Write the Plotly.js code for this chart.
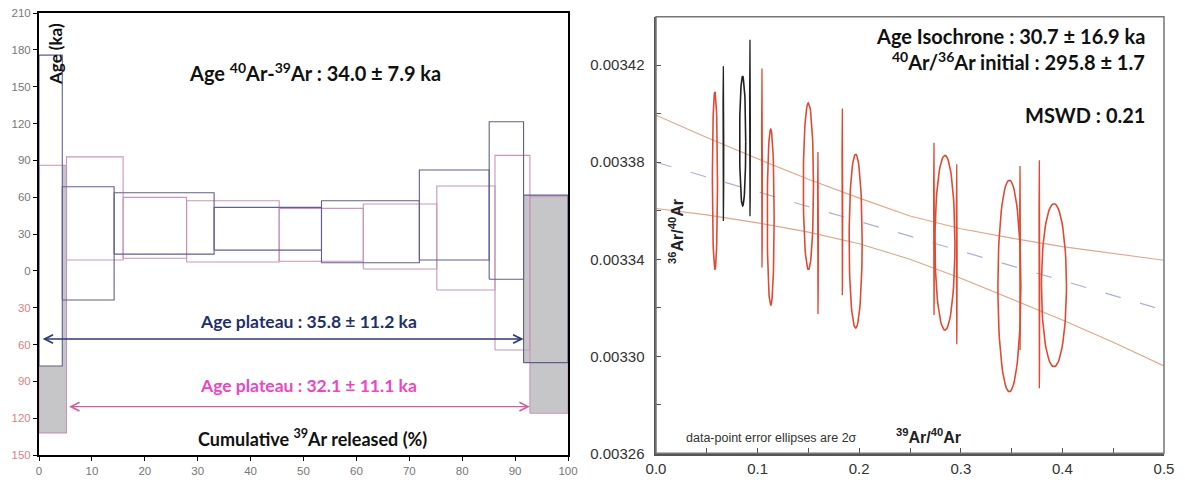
<!DOCTYPE html>
<html><head><meta charset="utf-8">
<script src="https://cdn.plot.ly/plotly-3.0.1.min.js"></script>
<style>html,body{margin:0;padding:0;background:#fff}#chart{width:1185px;height:482px}</style>
</head><body><div id="chart"></div>
<script>
// ---------- Left panel: age spectrum (two analyses) ----------
const blueEdges = [0, 4.4, 14.2, 33.1, 53.4, 71.9, 85.1, 91.6, 100];   // cumulative 39Ar (%)
const blueLow   = [-77.5, -23.8, 13.6, 16.9, 6.6, 8.8, -6.9, -74.8];    // age - err (ka)
const blueHigh  = [175.7, 68.5, 63.6, 51.7, 57.1, 82.1, 121.4, 61.7];   // age + err (ka)
const blueInPlateau = [true, true, true, true, true, true, true, false];

const pinkEdges = [0, 5.2, 15.9, 27.9, 45.4, 61.3, 75.2, 86.2, 92.8, 100];
const pinkLow   = [-132, 8.8, 10.2, 7.2, 7.8, 1.5, -15.6, -64.5, -116];
const pinkHigh  = [86, 92.8, 59.8, 57.1, 50.9, 54.4, 69.1, 94.0, 60.3];
const pinkInPlateau = [false, true, true, true, true, true, true, true, false];

const ageTickVals = [-150, -120, -90, -60, -30, 0, 30, 60, 90, 120, 150, 180, 210];
const xTickVals = [0, 10, 20, 30, 40, 50, 60, 70, 80, 90, 100];

const totalAgeText = 'Age <sup>40</sup>Ar-<sup>39</sup>Ar : 34.0 ± 7.9 ka';
const bluePlateauText = 'Age plateau : 35.8 ± 11.2 ka';
const pinkPlateauText = 'Age plateau : 32.1 ± 11.1 ka';

// ---------- Right panel: inverse isochron ----------
const ellX  = [0.058, 0.0663, 0.0853, 0.0925, 0.1043, 0.1129, 0.150, 0.1594, 0.1834, 0.1965, 0.2736, 0.2844, 0.296, 0.3478, 0.3583, 0.3773, 0.3917];
const ellY  = [0.0033724, 0.0033877, 0.0033887, 0.0033941, 0.0033776, 0.0033573, 0.0033701, 0.0033508, 0.0033637, 0.0033475, 0.0033525, 0.0033468, 0.0033421, 0.0033290, 0.0033405, 0.0033338, 0.0033293];
const ellEx = [0.0025, 0.0004, 0.0030, 0.0004, 0.0004, 0.0034, 0.0050, 0.0004, 0.0004, 0.0064, 0.0004, 0.0098, 0.0004, 0.0113, 0.0004, 0.0004, 0.0123];
const ellEy = [0.0000366, 0.0000319, 0.0000267, 0.0000364, 0.0000410, 0.0000363, 0.0000343, 0.0000334, 0.0000385, 0.0000358, 0.0000355, 0.0000360, 0.0000371, 0.0000436, 0.0000379, 0.0000470, 0.0000336];
const ellUsed = [1, 0, 0, 0, 1, 1, 1, 1, 1, 1, 1, 1, 1, 1, 1, 1, 1];

const isoX = [0, 0.5];
const isoY = [0.003380, 0.003319];
const envX = [0, 0.05, 0.1, 0.15, 0.2, 0.25, 0.3, 0.35, 0.4, 0.45, 0.5];
const envUpper = [0.0033994, 0.0033902, 0.0033814, 0.0033730, 0.0033652, 0.0033578, 0.0033526, 0.0033487, 0.0033452, 0.0033423, 0.0033396];
const envLower = [0.0033609, 0.0033583, 0.0033550, 0.0033512, 0.0033464, 0.0033400, 0.0033322, 0.0033237, 0.0033150, 0.0033058, 0.0032960];

// ---------- build geometry ----------
function rects(edges, lo, hi, pick) {
  const xs = [], ys = [];
  for (let i = 0; i < lo.length; i++) {
    if (pick && !pick(i)) continue;
    const a = edges[i], b = edges[i + 1];
    xs.push(a, b, b, a, a, null);
    ys.push(lo[i], lo[i], hi[i], hi[i], lo[i], null);
  }
  return {x: xs, y: ys};
}
function ellipses(pick) {
  const xs = [], ys = [];
  for (let i = 0; i < ellX.length; i++) {
    if (!pick(i)) continue;
    for (let k = 0; k <= 72; k++) {
      const t = 2 * Math.PI * k / 72;
      xs.push(ellX[i] + ellEx[i] * Math.cos(t));
      ys.push(ellY[i] + ellEy[i] * Math.sin(t));
    }
    xs.push(null); ys.push(null);
  }
  return {x: xs, y: ys};
}

const grayPink = rects(pinkEdges, pinkLow, pinkHigh, i => !pinkInPlateau[i]);
const grayBlue = rects(blueEdges, blueLow, blueHigh, i => !blueInPlateau[i]);
const whiteBlue = rects(blueEdges, blueLow, blueHigh, i => blueInPlateau[i] && i === 0);
const pinkAll = rects(pinkEdges, pinkLow, pinkHigh);
const blueAll = rects(blueEdges, blueLow, blueHigh);

const BLUE = '#5f5f96', PINK = '#c995bb';
const traces = [
  {x: grayPink.x, y: grayPink.y, xaxis: 'x', yaxis: 'y', mode: 'lines', fill: 'toself', fillcolor: '#c6c6c8', line: {width: 0}, hoverinfo: 'skip'},
  {x: grayBlue.x, y: grayBlue.y, xaxis: 'x', yaxis: 'y', mode: 'lines', fill: 'toself', fillcolor: '#c6c6c8', line: {width: 0}, hoverinfo: 'skip'},
  {x: whiteBlue.x, y: whiteBlue.y, xaxis: 'x', yaxis: 'y', mode: 'lines', fill: 'toself', fillcolor: '#ffffff', line: {width: 0}, hoverinfo: 'skip'},
  {x: pinkAll.x, y: pinkAll.y, xaxis: 'x', yaxis: 'y', mode: 'lines', line: {color: PINK, width: 1.1}, hoverinfo: 'skip'},
  {x: blueAll.x, y: blueAll.y, xaxis: 'x', yaxis: 'y', mode: 'lines', line: {color: BLUE, width: 1.1}, hoverinfo: 'skip'}
];

const thin = i => ellEx[i] < 0.001;
const redThick = ellipses(i => ellUsed[i] && !thin(i));
const redThin = ellipses(i => ellUsed[i] && thin(i));
const blkThick = ellipses(i => !ellUsed[i] && !thin(i));
const blkThin = ellipses(i => !ellUsed[i] && thin(i));

traces.push(
  {x: envX, y: envUpper, xaxis: 'x2', yaxis: 'y2', mode: 'lines', line: {color: '#e3a58a', width: 1.1}, hoverinfo: 'skip'},
  {x: envX, y: envLower, xaxis: 'x2', yaxis: 'y2', mode: 'lines', line: {color: '#e3a58a', width: 1.1}, hoverinfo: 'skip'},
  {x: isoX, y: isoY, xaxis: 'x2', yaxis: 'y2', mode: 'lines', line: {color: '#a9b1d9', width: 1.2, dash: '16px,20px'}, hoverinfo: 'skip'},
  {x: redThick.x, y: redThick.y, xaxis: 'x2', yaxis: 'y2', mode: 'lines', line: {color: '#e04a33', width: 1.6}, hoverinfo: 'skip'},
  {x: redThin.x, y: redThin.y, xaxis: 'x2', yaxis: 'y2', mode: 'lines', line: {color: '#e04a33', width: 1.3}, hoverinfo: 'skip'},
  {x: blkThick.x, y: blkThick.y, xaxis: 'x2', yaxis: 'y2', mode: 'lines', line: {color: '#222222', width: 1.6}, hoverinfo: 'skip'},
  {x: blkThin.x, y: blkThin.y, xaxis: 'x2', yaxis: 'y2', mode: 'lines', line: {color: '#222222', width: 1.3}, hoverinfo: 'skip'}
);

const tickFont = {family: 'Liberation Sans, Arial, sans-serif', size: 11.5, color: '#777'};
const TXT = 'Lato, Open Sans, sans-serif';
const AX = 'Liberation Sans, Arial, sans-serif';

function label(px, py, text, size, color, opts) {
  return Object.assign({xref: 'paper', yref: 'paper', x: px / 1185, y: 1 - py / 482, xanchor: 'center', yanchor: 'middle',
    text: text, showarrow: false, font: {family: TXT, size: size, color: color}}, opts || {});
}

const layout = {
  width: 1185, height: 482,
  margin: {l: 0, r: 0, t: 0, b: 0},
  paper_bgcolor: '#fff', plot_bgcolor: 'rgba(0,0,0,0)',
  showlegend: false,
  xaxis: {
    domain: [39 / 1185, 568 / 1185], range: [0, 100], tickvals: xTickVals,
    showgrid: false, zeroline: false, showline: true, mirror: true, linecolor: '#000', linewidth: 2,
    ticks: 'outside', ticklen: 4, tickcolor: '#000', tickfont: tickFont, fixedrange: true
  },
  yaxis: {
    domain: [1 - 455 / 482, 1 - 13 / 482], range: [-150, 210], tickvals: ageTickVals,
    ticktext: ageTickVals.map(v => v < 0 ? '<span style="color:#de7f7f">' + (-v) + '</span>' : String(v)),
    showgrid: false, zeroline: false, showline: true, mirror: true, linecolor: '#000', linewidth: 2,
    ticks: 'outside', ticklen: 4, tickcolor: '#000', tickfont: tickFont, fixedrange: true
  },
  xaxis2: {
    domain: [656 / 1185, 1164 / 1185], range: [0, 0.5], anchor: 'y2', dtick: 0.1, tick0: 0, tickformat: '.1f',
    showgrid: false, zeroline: false, showline: true, linecolor: '#555', linewidth: 2.5,
    ticks: 'inside', ticklen: 5, tickcolor: '#555',
    minor: {dtick: 0.05, ticks: 'inside', ticklen: 5, tickcolor: '#555', showgrid: false},
    tickfont: {family: AX, size: 15, color: '#333'}, fixedrange: true
  },
  yaxis2: {
    domain: [1 - 453.3 / 482, 1 - 16.7 / 482], range: [0.00326, 0.00344], anchor: 'x2',
    dtick: 0.00004, tick0: 0.00326, tickformat: '.5f',
    showgrid: false, zeroline: false, showline: true, linecolor: '#555', linewidth: 2.5,
    ticks: 'inside', ticklen: 5, tickcolor: '#555',
    minor: {dtick: 0.00002, ticks: 'inside', ticklen: 5, tickcolor: '#555', showgrid: false},
    ticklabelstandoff: 6,
    tickfont: {family: AX, size: 15, color: '#333'}, fixedrange: true
  },
  shapes: [
    {type: 'rect', xref: 'x2 domain', yref: 'y2 domain', x0: 0, x1: 1, y0: 0, y1: 1, line: {color: '#777', width: 1.5}}
  ],
  annotations: [
    label(315, 72, '<b>' + totalAgeText + '</b>', 20, '#111'),
    label(55, 54, '<b>Age (ka)</b>', 17, '#111', {textangle: -90}),
    label(308, 321, '<b>' + bluePlateauText + '</b>', 17.5, '#1f2f6e'),
    label(308, 385, '<b>' + pinkPlateauText + '</b>', 17.5, '#f044c4'),
    label(312, 438, '<b>Cumulative <sup>39</sup>Ar released (%)</b>', 18, '#111'),
    // plateau arrows, ends at plateau step boundaries
    {xref: 'x', yref: 'y', axref: 'x', ayref: 'y', x: blueEdges[7], y: -55.5, ax: blueEdges[0] + 0.4, ay: -55.5, text: '',
     showarrow: true, arrowside: 'end+start', arrowhead: 5, startarrowhead: 5, arrowsize: 1.3, startarrowsize: 1.3, arrowwidth: 1.3, arrowcolor: '#2d3a80', standoff: 0, startstandoff: 0},
    {xref: 'x', yref: 'y', axref: 'x', ayref: 'y', x: pinkEdges[8], y: -110.6, ax: pinkEdges[1] + 0.2, ay: -110.6, text: '',
     showarrow: true, arrowside: 'end+start', arrowhead: 5, startarrowhead: 5, arrowsize: 1.3, startarrowsize: 1.3, arrowwidth: 1.3, arrowcolor: '#cf5f9d', standoff: 0, startstandoff: 0},
    // right panel texts
    label(1147, 36, '<b>Age Isochrone : 30.7 ± 16.9 ka</b>', 20, '#111', {xanchor: 'right'}),
    label(1147, 61, '<b><sup>40</sup>Ar/<sup>36</sup>Ar initial : 295.8 ± 1.7</b>', 20, '#111', {xanchor: 'right'}),
    label(1147, 115, '<b>MSWD : 0.21</b>', 20, '#111', {xanchor: 'right'}),
    label(771, 438, 'data-point error ellipses are 2σ', 12.5, '#333', {font: {family: AX, size: 12.5, color: '#333'}}),
    label(928, 436, '<b><sup>39</sup>Ar/<sup>40</sup>Ar</b>', 16, '#222', {font: {family: AX, size: 16, color: '#222'}}),
    label(676, 232, '<b><sup>36</sup>Ar/<sup>40</sup>Ar</b>', 16, '#222', {textangle: -90, font: {family: AX, size: 16, color: '#222'}})
  ]
};

Plotly.newPlot('chart', traces, layout, {displayModeBar: false, staticPlot: true});
</script>
</body></html>
